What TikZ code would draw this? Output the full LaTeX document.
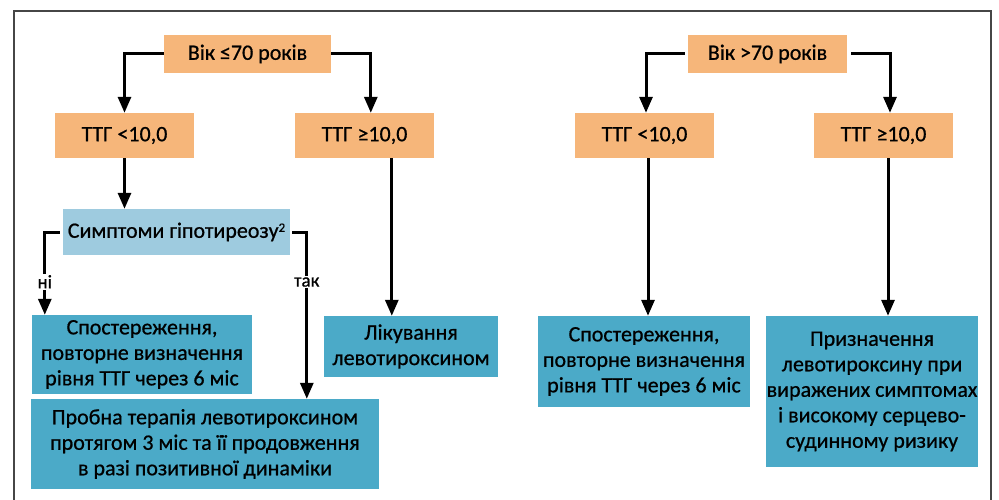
\documentclass[tikz,border=0pt]{standalone}
\usepackage{fontspec}
\setmainfont{Carlito}[FakeBold=0.7]
\usetikzlibrary{arrows.meta}
\definecolor{orangebox}{RGB}{246,182,122}
\definecolor{bluebox}{RGB}{75,170,200}
\definecolor{lightbox}{RGB}{158,203,223}
\definecolor{framegray}{RGB}{70,70,70}
\tikzset{
  basebox/.style={inner sep=0pt, align=center, text=black, font=\fontsize{22}{25.5}\selectfont},
  obox/.style={basebox, fill=orangebox},
  bbox/.style={basebox, fill=bluebox},
  lbox/.style={basebox, fill=lightbox},
  arr/.style={line width=3pt, -{Triangle[length=16pt,width=13pt]}},
  lab/.style={fill=white, inner sep=1.5pt, font=\fontsize{19}{20}\selectfont}
}
\begin{document}
\begin{tikzpicture}[x=1pt,y=-1pt]
\useasboundingbox (0,0) rectangle (999,500);
\draw[framegray, line width=1.5pt] (14,11) rectangle (991,520);

% left tree
\node[obox, minimum width=167pt, minimum height=38pt] (age1) at (247.5,54) {Вік ≤70 років};
\node[obox, minimum width=139pt, minimum height=45pt] (t1a) at (124.5,135.5) {ТТГ <10,0};
\node[obox, minimum width=139pt, minimum height=45pt] (t1b) at (364.5,135.5) {ТТГ ≥10,0};
\node[lbox, minimum width=227pt, minimum height=46pt] (sym) at (176.5,232) {Симптоми гіпотиреозу{\fontsize{13}{13}\selectfont\raisebox{0.45em}{2}}};
\node[bbox, minimum width=220pt, minimum height=79pt] (obs1) at (142,354.5) {Спостереження,\\повторне визначення\\рівня ТТГ через 6 міс};
\node[bbox, minimum width=348pt, minimum height=90pt] (trial) at (205,444) {Пробна терапія левотироксином\\протягом 3 міс та її продовження\\в разі позитивної динаміки};
\node[bbox, minimum width=174pt, minimum height=61pt] (treat) at (411,346.5) {Лікування\\левотироксином};

% right tree
\node[obox, minimum width=159pt, minimum height=38pt] (age2) at (767.5,54) {Вік >70 років};
\node[obox, minimum width=139pt, minimum height=45pt] (t2a) at (644.5,135.5) {ТТГ <10,0};
\node[obox, minimum width=139pt, minimum height=45pt] (t2b) at (883.5,135.5) {ТТГ ≥10,0};
\node[bbox, minimum width=212pt, minimum height=91pt] (obs2) at (644,361.5) {Спостереження,\\повторне визначення\\рівня ТТГ через 6 міс};
\node[bbox, minimum width=212pt, minimum height=151pt] (presc) at (872,391.5) {Призначення\\левотироксину при\\виражених симптомах\\і високому серцево-\\судинному ризику};

% connectors left
\draw[arr] (age1.west) -| (t1a.north);
\draw[arr] (age1.east) -| ([xshift=76pt]t1b.north west);
\draw[arr] (t1a.south) -- (t1a.south |- sym.north);
\draw[arr] ([xshift=97pt]t1b.south west) -- ([xshift=97pt]t1b.south west |- treat.north);
\draw[arr] ([xshift=-3pt]sym.west) -| node[lab, pos=0.80] {ні} ([xshift=13pt]obs1.north west);
\draw[arr] ([xshift=2pt]sym.east) -| node[lab, pos=0.65] {так} ([xshift=276pt]trial.north west);

% connectors right
\draw[arr] ([xshift=-3pt]age2.west) -| ([xshift=1.5pt]t2a.north);
\draw[arr] ([xshift=4pt]age2.east) -| ([xshift=6.5pt]t2b.north);
\draw[arr] ([xshift=3.5pt]t2a.south) -- ([xshift=3.5pt]t2a.south |- obs2.north);
\draw[arr] ([xshift=4.5pt]t2b.south) -- ([xshift=4.5pt]t2b.south |- presc.north);
\end{tikzpicture}
\end{document}
